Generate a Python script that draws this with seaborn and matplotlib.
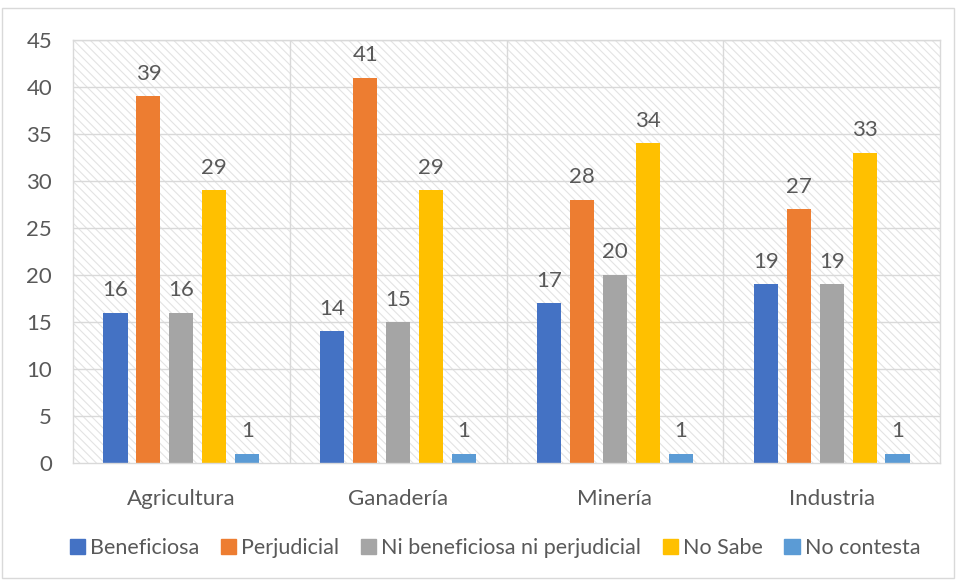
import matplotlib
matplotlib.use("Agg")
import matplotlib.pyplot as plt
import seaborn as sns
import pandas as pd
from matplotlib.patches import Rectangle

sectores = ["Agricultura", "Ganadería", "Minería", "Industria"]
respuestas = ["Beneficiosa", "Perjudicial", "Ni beneficiosa ni perjudicial", "No Sabe", "No contesta"]
beneficiosa = [16, 14, 17, 19]
perjudicial = [39, 41, 28, 27]
ni_uno_ni_otro = [16, 15, 20, 19]
no_sabe = [29, 29, 34, 33]
no_contesta = [1, 1, 1, 1]
colores = ["#4472C4", "#ED7D31", "#A5A5A5", "#FFC000", "#5B9BD5"]
y_ticks = [0, 5, 10, 15, 20, 25, 30, 35, 40, 45]

series = [beneficiosa, perjudicial, ni_uno_ni_otro, no_sabe, no_contesta]
rows = []
for resp, vals in zip(respuestas, series):
    for sec, v in zip(sectores, vals):
        rows.append({"Sector": sec, "Respuesta": resp, "Valor": v})
df = pd.DataFrame(rows)

sns.set_theme(style="white")
plt.rcParams["font.family"] = ["Lato", "DejaVu Sans"]
plt.rcParams["hatch.linewidth"] = 0.8
text_color = "#595959"
grid_color = "#D9D9D9"
fs = 16

fig = plt.figure(figsize=(9.57, 5.82), dpi=100)
ax = fig.add_axes([73 / 957, 1 - 463 / 582, (940 - 73) / 957, (463 - 40) / 582])

# hatched plot area
ax.patch.set_facecolor("white")
ax.patch.set_edgecolor("#E3E3E3")
ax.patch.set_linewidth(0)
ax.patch.set_hatch("\\\\\\\\")

sns.barplot(data=df, x="Sector", y="Valor", hue="Respuesta", order=sectores,
            hue_order=respuestas, palette=colores, saturation=1, width=0.76,
            gap=0.27, linewidth=0, legend=False, ax=ax)

for cont in ax.containers:
    labels = [f"{int(b.get_height())}" for b in cont]
    ax.bar_label(cont, labels=labels, padding=9, fontsize=fs, color=text_color)

ax.set_ylim(0, 45)
ax.set_xlim(-0.5, 3.5)
ax.set_yticks(y_ticks)
ax.set_xlabel("")
ax.set_ylabel("")
ax.set_axisbelow(True)
for y in y_ticks[1:]:
    ax.axhline(y, color=grid_color, lw=1, zorder=0.5)
for x in [0.5, 1.5, 2.5]:
    ax.axvline(x, color=grid_color, lw=1, zorder=0.5)
for s in ax.spines.values():
    s.set_color(grid_color)
    s.set_linewidth(1)
ax.tick_params(axis="x", length=0, pad=19, labelsize=fs, labelcolor=text_color)
ax.tick_params(axis="y", length=0, pad=15, labelsize=fs, labelcolor=text_color)

handles = [Rectangle((0, 0), 1, 1, color=c) for c in colores]
fig.legend(handles, respuestas, loc="center", bbox_to_anchor=(495 / 957, 1 - 548 / 582),
           ncol=5, frameon=False, fontsize=fs - 0.5, labelcolor=text_color,
           handlelength=0.7, handleheight=0.7, handletextpad=0.25, columnspacing=1.0)

# chart frame
fig.patches.append(Rectangle((2 / 957, 4 / 582), 952 / 957, 570 / 582, transform=fig.transFigure,
                             fill=False, edgecolor=grid_color, lw=1))

fig.savefig("out.png", dpi=100)
